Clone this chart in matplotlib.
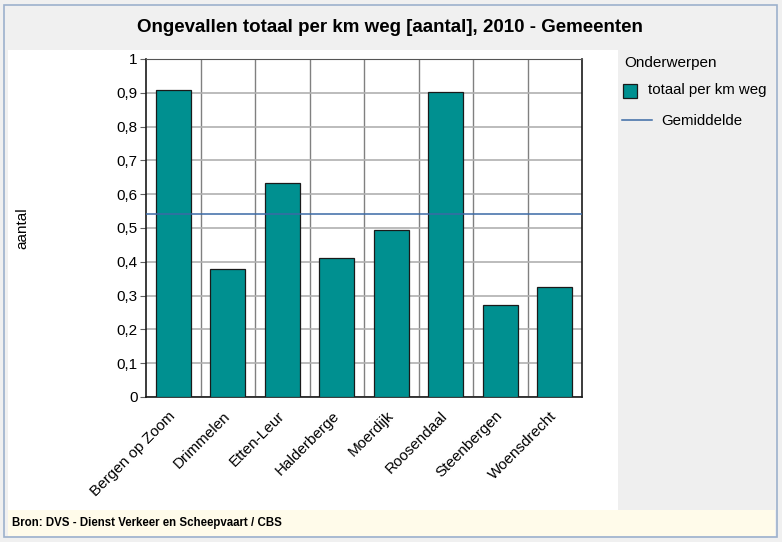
#Bar chart: accidents per km road, 2010, by municipality
import numpy as np
import matplotlib
matplotlib.use('Agg')
import matplotlib.pyplot as plt
from matplotlib.patches import Rectangle
from matplotlib.lines import Line2D
import matplotlib.ticker as ticker

#Data
gemeenten = ['Bergen op Zoom', 'Drimmelen', 'Etten-Leur', 'Halderberge',
             'Moerdijk', 'Roosendaal', 'Steenbergen', 'Woensdrecht']
totaal_per_km = [0.908, 0.379, 0.633, 0.411, 0.494, 0.902, 0.272, 0.325]
gemiddelde = 0.541

teal = '#009090'
blauw = '#3b6aa5'

plt.rcParams['font.family'] = ['Liberation Sans', 'DejaVu Sans']

W, H = 782, 542
fig = plt.figure(figsize=(W / 100, H / 100), dpi=100, facecolor='#f0f0f0')

def px(x, y):
    return x / W, 1 - y / H

def box(x0, y0, x1, y1, z=-10, **kw):
    # rectangle in pixel coords (top-left origin)
    fig.patches.append(Rectangle(px(x0, y1), (x1 - x0) / W, (y1 - y0) / H,
                                 transform=fig.transFigure, zorder=z, **kw))

#Panels: outer border, white plot area, legend panel, source footer
box(4, 5, 777, 537, facecolor='#f0f0f0', edgecolor='#9db1cc', linewidth=1.2, z=-12)
box(8, 50, 618, 510, facecolor='white', edgecolor='none')
box(618, 50, 775, 510, facecolor='#efefef', edgecolor='none')
box(8, 510, 775, 536, facecolor='#fffbea', edgecolor='none')

fig.text(*px(390, 27), 'Ongevallen totaal per km weg [aantal], 2010 - Gemeenten',
         ha='center', va='center', fontsize=13.5, fontweight='bold')
fig.text(*px(12, 523), 'Bron: DVS - Dienst Verkeer en Scheepvaart / CBS',
         ha='left', va='center', fontsize=8.3, fontweight='bold')
fig.text(*px(22, 228), 'aantal', ha='center', va='center', rotation=90, fontsize=11)

#Chart axes
ax = fig.add_axes([146 / W, 1 - 397 / H, (582 - 146) / W, (397 - 59) / H], zorder=5)
ax.set_facecolor('white')
x = np.arange(len(gemeenten))
ax.bar(x, totaal_per_km, width=0.64, color=teal, edgecolor='#1a1a1a',
       linewidth=0.9, zorder=3)
ax.axhline(gemiddelde, color=blauw, linewidth=1.1, zorder=4)

ax.set_xlim(-0.5, len(gemeenten) - 0.5)
ax.set_ylim(0, 1)
ax.yaxis.set_major_locator(ticker.MultipleLocator(0.1))
ax.yaxis.set_major_formatter(ticker.FuncFormatter(
    lambda v, p: ('%g' % round(v, 1)).replace('.', ',')))
ax.set_xticks(x)
ax.set_xticklabels(gemeenten, rotation=45, ha='right', va='center',
                   rotation_mode='anchor', fontsize=11)
ax.set_xticks(x[:-1] + 0.5, minor=True)
ax.tick_params(axis='x', which='both', length=0, pad=12)
ax.tick_params(axis='y', length=4, width=0.8, color='#606060', labelsize=11, pad=2)
ax.grid(axis='y', color='#b0b0b0', linewidth=1.2, zorder=1)
ax.grid(axis='x', which='minor', color='#808080', linewidth=1.0, zorder=1)
ax.set_axisbelow(True)
for s in ['left', 'bottom', 'right']:
    ax.spines[s].set_color('#1a1a1a')
    ax.spines[s].set_linewidth(1.2)
ax.spines['top'].set_color('#555555')

#Legend in the right-hand panel, drawn by hand
fig.text(*px(624, 63), 'Onderwerpen', ha='left', va='center', fontsize=11)
box(623, 84, 637, 98, z=2, facecolor=teal, edgecolor='#1a1a1a', linewidth=0.9)
fig.text(*px(648, 90), 'totaal per km weg', ha='left', va='center', fontsize=10.8)
fig.lines.append(Line2D([622 / W, 652 / W], [1 - 120 / H] * 2, color=blauw,
                        linewidth=1.1, transform=fig.transFigure))
fig.text(*px(661, 121), 'Gemiddelde', ha='left', va='center', fontsize=10.8)

plt.savefig('out.png', dpi=100, facecolor=fig.get_facecolor())
